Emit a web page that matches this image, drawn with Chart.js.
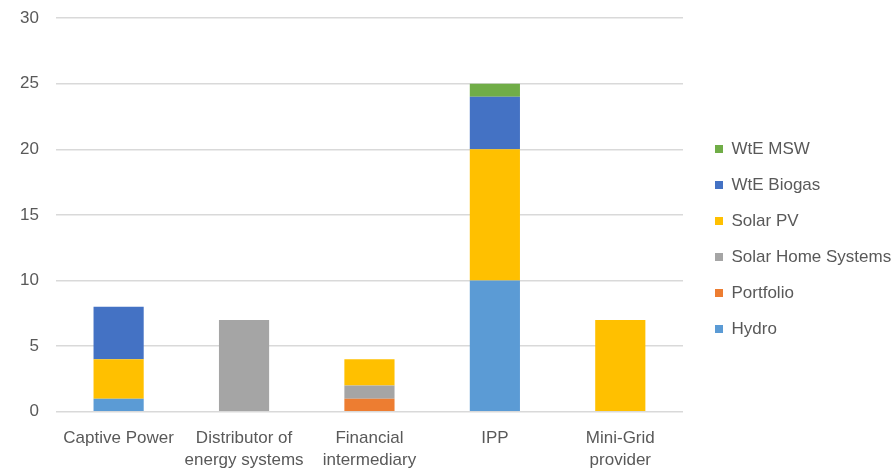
<!DOCTYPE html>
<html>
<head>
<meta charset="utf-8">
<script src="https://cdn.jsdelivr.net/npm/chart.js@4"></script>
<style>
  html, body { margin: 0; padding: 0; background: #fff; }
  #wrap { width: 894px; height: 470px; }
</style>
</head>
<body>
<div id="wrap"><canvas id="chart"></canvas></div>
<script>
const categories = [
  'Captive Power',
  ['Distributor of', 'energy systems'],
  ['Financial', 'intermediary'],
  'IPP',
  ['Mini-Grid', 'provider']
];
const hydro = [1, 0, 0, 10, 0];
const portfolio = [0, 0, 1, 0, 0];
const solarHome = [0, 7, 1, 0, 0];
const solarPV = [3, 0, 2, 10, 7];
const wteBiogas = [4, 0, 0, 4, 0];
const wteMSW = [0, 0, 0, 1, 0];

Chart.defaults.font.family = "'Liberation Sans', sans-serif";
Chart.defaults.font.size = 17;
Chart.defaults.color = '#595959';

function ds(label, data, color) {
  return {
    label: label,
    data: data,
    backgroundColor: color,
    borderWidth: 0,
    barPercentage: 0.4,
    categoryPercentage: 1
  };
}

// fixed legend column width, and nudge the items into place
const legendSpace = {
  id: 'legendSpace',
  beforeInit(chart) {
    const lg = chart.legend;
    const fit = lg.fit;
    lg.fit = function () {
      fit.call(this);
      this.width = 211;
    };
  },
  afterLayout(chart) {
    chart.legend.left += 13;
    chart.legend.top -= 13;
    chart.legend.bottom -= 13;
  }
};

const ctx = document.getElementById('chart').getContext('2d');
const myChart = new Chart(ctx, {
  type: 'bar',
  data: {
    labels: categories,
    datasets: [
      ds('Hydro', hydro, '#5B9BD5'),
      ds('Portfolio', portfolio, '#ED7D31'),
      ds('Solar Home Systems', solarHome, '#A5A5A5'),
      ds('Solar PV', solarPV, '#FFC000'),
      ds('WtE Biogas', wteBiogas, '#4472C4'),
      ds('WtE MSW', wteMSW, '#70AD47')
    ]
  },
  plugins: [legendSpace],
  options: {
    responsive: true,
    maintainAspectRatio: false,
    animation: false,
    layout: { padding: { left: 3, top: 18, right: 0, bottom: -16 } },
    plugins: {
      tooltip: { enabled: false },
      legend: {
        position: 'right',
        reverse: true,
        labels: {
          boxWidth: 8,
          boxHeight: 8,
          padding: 19,
          font: { size: 17 }
        }
      }
    },
    scales: {
      x: {
        stacked: true,
        grid: { display: false, drawTicks: false },
        border: { display: false },
        ticks: { padding: 15, maxRotation: 0, autoSkip: false, font: { lineHeight: 1.3 } },
        afterFit(scale) { scale.paddingLeft = 0; scale.paddingRight = 0; }
      },
      y: {
        stacked: true,
        min: 0,
        max: 30,
        ticks: { stepSize: 5, padding: 17 },
        grid: { color: '#d9d9d9', lineWidth: 1.5, drawTicks: false },
        border: { display: false },
        afterFit(scale) { scale.paddingTop = 0; scale.paddingBottom = 0; }
      }
    }
  }
});
</script>
</body>
</html>
